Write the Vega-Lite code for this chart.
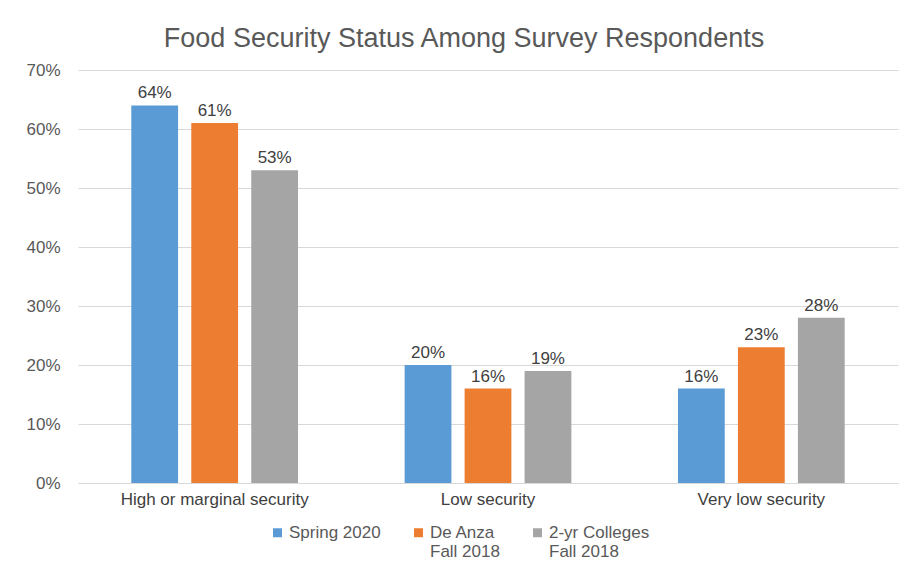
{
  "$schema": "https://vega.github.io/schema/vega-lite/v6.json",
  "width": 820,
  "height": 413,
  "autosize": {"type": "none"},
  "padding": {"left": 78, "top": 70, "right": 10, "bottom": 82},
  "background": "white",
  "title": {
    "text": "Food Security Status Among Survey Respondents",
    "fontSize": 27,
    "font": "Liberation Sans",
    "fontWeight": "normal",
    "color": "#595959",
    "anchor": "middle",
    "offset": 8,
    "dx": -24
  },
  "data": {
    "values": [
      {"category": "High or marginal security", "group": "Spring 2020|", "value": 0.64},
      {"category": "High or marginal security", "group": "De Anza|Fall 2018", "value": 0.61},
      {"category": "High or marginal security", "group": "2-yr Colleges|Fall 2018", "value": 0.53},
      {"category": "Low security", "group": "Spring 2020|", "value": 0.20},
      {"category": "Low security", "group": "De Anza|Fall 2018", "value": 0.16},
      {"category": "Low security", "group": "2-yr Colleges|Fall 2018", "value": 0.19},
      {"category": "Very low security", "group": "Spring 2020|", "value": 0.16},
      {"category": "Very low security", "group": "De Anza|Fall 2018", "value": 0.23},
      {"category": "Very low security", "group": "2-yr Colleges|Fall 2018", "value": 0.28}
    ]
  },
  "encoding": {
    "x": {
      "field": "category",
      "type": "nominal",
      "sort": null,
      "scale": {"paddingInner": 0.39, "paddingOuter": 0.195},
      "axis": {
        "title": null,
        "labelAngle": 0,
        "labelFontSize": 17,
        "labelLimit": 400,
        "labelFont": "Liberation Sans",
        "labelColor": "#404040",
        "domainColor": "#D9D9D9",
        "ticks": false,
        "labelPadding": 8
      }
    },
    "xOffset": {
      "field": "group",
      "type": "nominal",
      "sort": ["Spring 2020|", "De Anza|Fall 2018", "2-yr Colleges|Fall 2018"],
      "scale": {"paddingInner": 0.22, "paddingOuter": 0}
    },
    "y": {
      "field": "value",
      "type": "quantitative",
      "scale": {"domain": [0, 0.7], "nice": false},
      "axis": {
        "title": null,
        "format": ".0%",
        "values": [0, 0.1, 0.2, 0.3, 0.4, 0.5, 0.6, 0.7],
        "labelOverlap": false,
        "domain": false,
        "ticks": false,
        "labelPadding": 18,
        "labelFontSize": 17,
        "labelFont": "Liberation Sans",
        "labelColor": "#595959",
        "gridColor": "#D9D9D9"
      }
    },
    "color": {
      "field": "group",
      "type": "nominal",
      "sort": ["Spring 2020|", "De Anza|Fall 2018", "2-yr Colleges|Fall 2018"],
      "scale": {
        "domain": ["Spring 2020|", "De Anza|Fall 2018", "2-yr Colleges|Fall 2018"],
        "range": ["#5B9BD5", "#ED7D31", "#A5A5A5"]
      },
      "legend": {
        "title": null,
        "orient": "none",
        "legendX": 191,
        "legendY": 454,
        "direction": "horizontal",
        "symbolType": "square",
        "symbolSize": 81,
        "symbolStrokeWidth": 0,
        "symbolOffset": 0,
        "labelOffset": 3,
        "labelFontSize": 17,
        "labelFont": "Liberation Sans",
        "labelColor": "#595959",
        "labelExpr": "split(datum.label, '|')",
        "labelBaseline": "middle",
        "columnPadding": 29
      }
    }
  },
  "layer": [
    {"mark": {"type": "bar"}},
    {
      "mark": {
        "type": "text",
        "dy": -12,
        "fontSize": 17,
        "font": "Liberation Sans",
        "color": "#404040"
      },
      "encoding": {
        "text": {"field": "value", "type": "quantitative", "format": ".0%"},
        "color": {"value": "#404040"}
      }
    }
  ],
  "config": {
    "view": {"stroke": null}
  }
}
